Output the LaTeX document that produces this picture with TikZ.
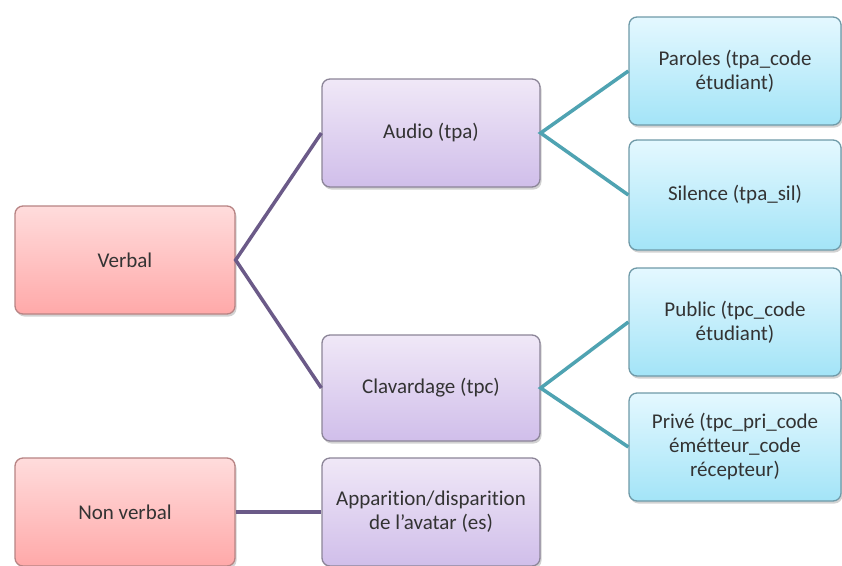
\documentclass[tikz,border=0pt]{standalone}
\usepackage{fontspec}
\setmainfont[Ligatures=NoCommon]{Carlito}
\usetikzlibrary{shadows}
\definecolor{redtop}{HTML}{FFDCDC}
\definecolor{redbot}{HTML}{FFA9A9}
\definecolor{redline}{HTML}{B88484}
\definecolor{purtop}{HTML}{F0E8F7}
\definecolor{purbot}{HTML}{D0BEEA}
\definecolor{purline}{HTML}{8C8598}
\definecolor{blutop}{HTML}{E4F8FF}
\definecolor{blubot}{HTML}{A3E4F7}
\definecolor{bluline}{HTML}{6F9AA8}
\definecolor{purcon}{HTML}{6B5A88}
\definecolor{blucon}{HTML}{4FA3B2}
\definecolor{txt}{HTML}{333333}
\tikzset{
  box/.style={rounded corners=8pt, line width=1.3pt, align=center, text=txt,
    font=\fontsize{21}{24}\selectfont, inner sep=2pt,
    drop shadow={shadow xshift=1.5pt, shadow yshift=-2.5pt, opacity=0.35}},
  redbox/.style={box, draw=redline, top color=redtop, bottom color=redbot,
    minimum width=220pt, minimum height=108pt},
  purbox/.style={box, draw=purline, top color=purtop, bottom color=purbot,
    minimum width=218pt, minimum height=108pt},
  blubox/.style={box, draw=bluline, top color=blutop, bottom color=blubot,
    minimum width=212pt, minimum height=108pt},
  pcon/.style={draw=purcon, line width=3.5pt},
  bcon/.style={draw=blucon, line width=3.5pt}
}
\begin{document}
\begin{tikzpicture}[x=1pt,y=-1pt]
\useasboundingbox[fill=white] (0,0) rectangle (842,565);
\node[redbox] (verbal) at (125,260) {Verbal};
\node[redbox] (nonverbal) at (125,512) {Non verbal};
\node[purbox] (audio) at (431,133) {Audio (tpa)};
\node[purbox, minimum height=106pt] (clav) at (431,388) {Clavardage (tpc)};
\node[purbox] (appar) at (431,512) {Apparition/disparition\\de l\symbol{39}avatar (es)};
\node[blubox] (paroles) at (735,71) {Paroles (tpa\_code\\étudiant)};
\node[blubox, minimum height=110pt] (silence) at (735,195) {Silence (tpa\_sil)};
\node[blubox] (public) at (735,322) {Public (tpc\_code\\étudiant)};
\node[blubox] (prive) at (735,447) {Privé (tpc\_pri\_code\\émétteur\_code\\récepteur)};
\draw[pcon] (audio.west) -- (verbal.east) -- (clav.west);
\draw[pcon] (nonverbal.east) -- (appar.west);
\draw[bcon] (paroles.west) -- (audio.east) -- (silence.west);
\draw[bcon] (public.west) -- (clav.east) -- (prive.west);
\end{tikzpicture}
\end{document}
